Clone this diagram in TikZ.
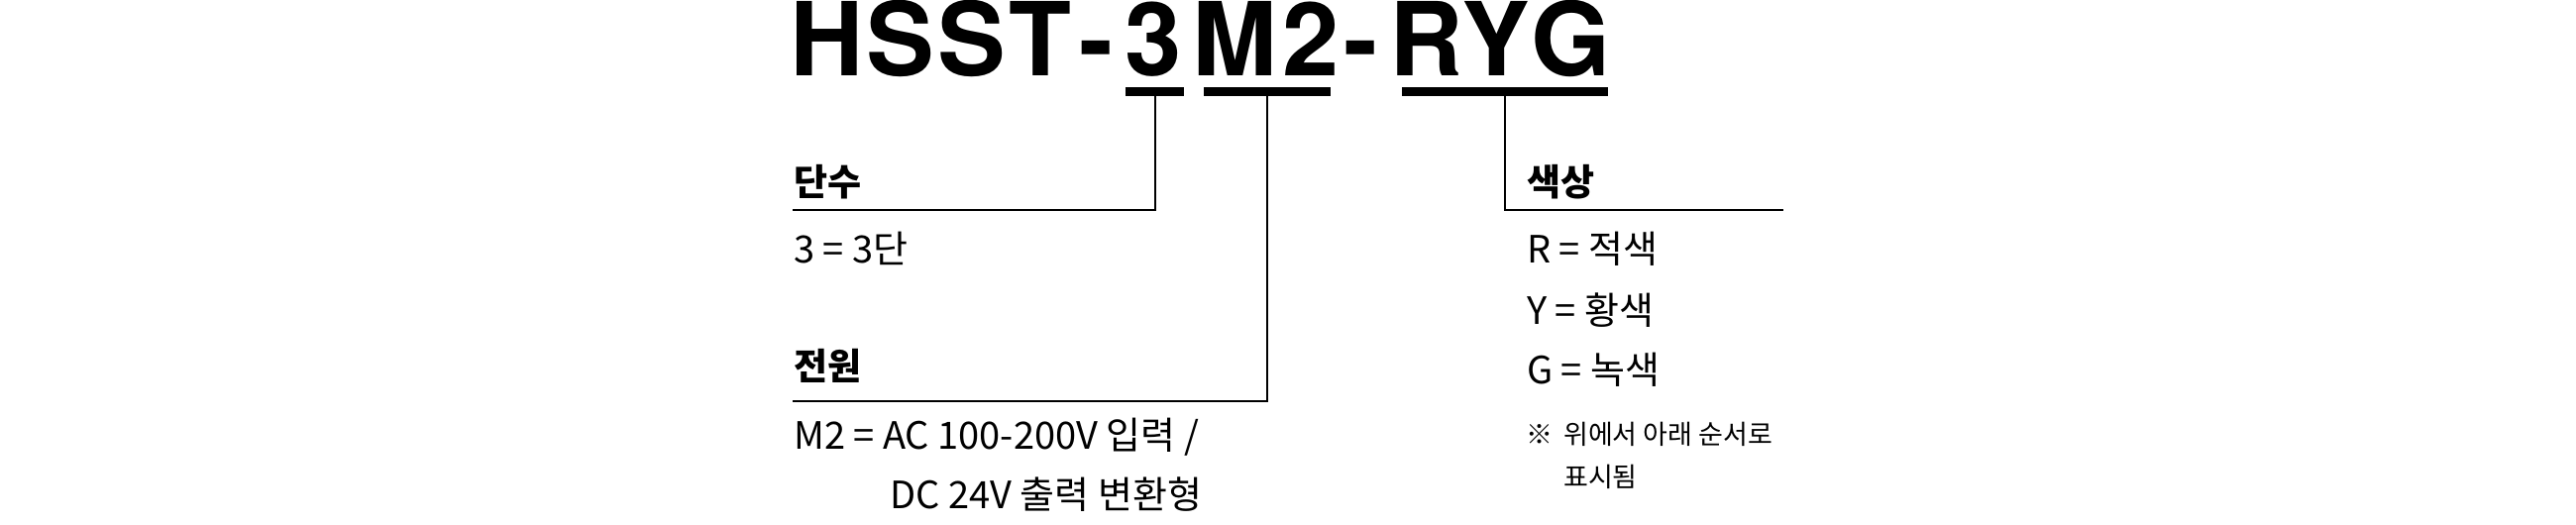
\documentclass[tikz,border=0pt]{standalone}
\usepackage{fontspec}
\newfontfamily\kr{Noto Sans CJK KR}
\newfontfamily\titlefont{TeX Gyre Heros}
\tikzset{
  ttl/.style={anchor=base west, inner sep=0pt, font=\titlefont\bfseries\fontsize{103}{103}\selectfont},
  head/.style={anchor=base west, inner sep=0pt, font=\kr\bfseries\fontsize{37}{37}\selectfont},
  body/.style={anchor=base west, inner sep=0pt, font=\kr\fontsize{38}{38}\selectfont},
  note/.style={anchor=base west, inner sep=0pt, font=\kr\fontsize{27}{27}\selectfont},
  bar/.style={fill=black, draw=none, inner sep=0pt, minimum height=9pt, anchor=north west},
  conn/.style={line width=2pt, draw=black}
}
\begin{document}
\begin{tikzpicture}[x=1pt,y=-1pt]
\useasboundingbox[fill=white] (0,0) rectangle (2600,530);
% title, glyph by glyph
\foreach \gx/\gc [count=\i] in {797.7/H,874.7/S,946.7/S,1018.6/T,1089.7/-,1135.2/3,1202.9/M,1294.3/2,1356.7/-,1402.2/R,1475.5/Y,1545.5/G}
  \node[ttl] (title\i) at (\gx,76) {\gc};
% underbars
\node[bar, minimum width=59pt]  (b3)   at (1136,88) {};
\node[bar, minimum width=128pt] (bM2)  at (1215,88) {};
\node[bar, minimum width=208pt] (bRYG) at (1415,88) {};
% corner ends
\coordinate (e3)   at (800,212);
\coordinate (eM2)  at (800,405);
\coordinate (eRYG) at (1800,212);
\draw[conn] (b3.south) |- (e3);
\draw[conn] (bM2.south) |- (eM2);
\draw[conn] (bRYG.south) |- (eRYG);
% headings
\node[head] (h1) at (801,197) {단수};
\node[head] (h2) at (801,383) {전원};
\node[head] (h3) at (1541,197) {색상};
% bodies
\node[body] (t1) at (801,265) {3 = 3단};
\node[body] (t2) at (801,453) {M2 = AC 100-200V 입력 /};
\node[body] (t3) at (898,513) {DC 24V 출력 변환형};
\node[body] (r)  at (1541,265) {R = 적색};
\node[body] (y)  at (1541,327) {Y = 황색};
\node[body] (g)  at (1541,387) {G = 녹색};
% note
\node[note] (n0) at (1540,448) {※};
\node[note] (n1) at (1578,448) {위에서 아래 순서로};
\node[note] (n2) at (1578,491) {표시됨};
\end{tikzpicture}
\end{document}
